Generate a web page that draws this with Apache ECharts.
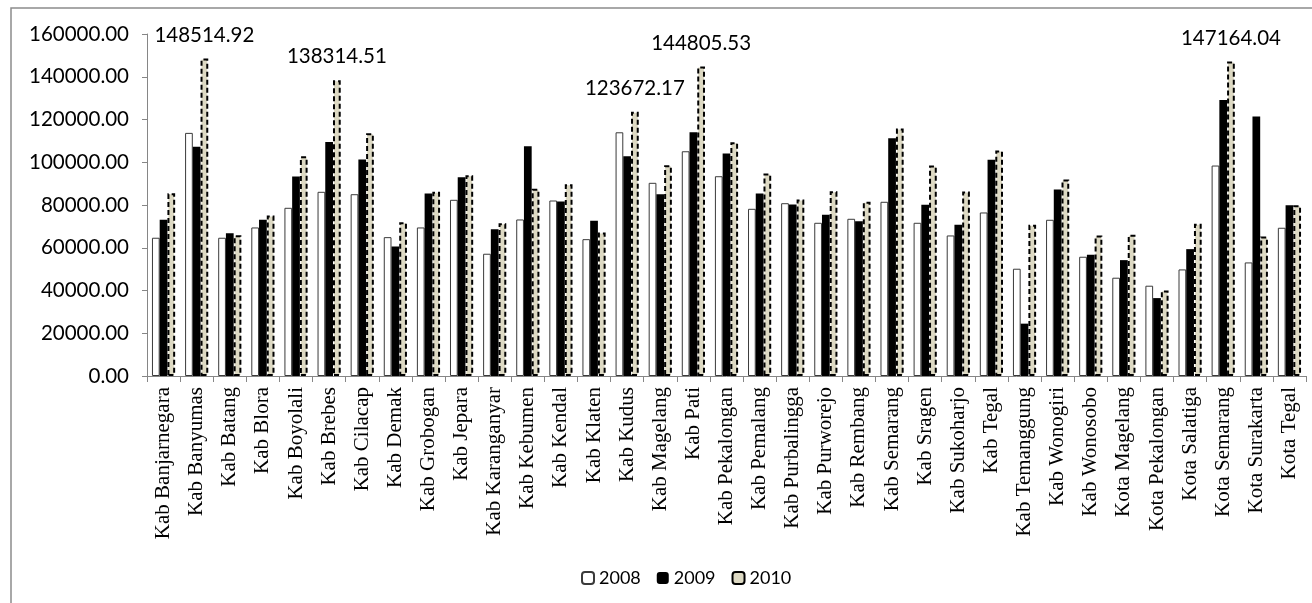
<!DOCTYPE html>
<html>
<head>
<meta charset="utf-8">
<script src="https://cdn.jsdelivr.net/npm/echarts@6/dist/echarts.min.js"></script>
<style>
  html, body { margin: 0; padding: 0; background: #fff; }
  #chart { width: 1312px; height: 603px; }
</style>
</head>
<body>
<div id="chart"></div>
<script>
// Regencies and cities of Central Java
const categories = [
  'Kab Banjarnegara', 'Kab Banyumas', 'Kab Batang', 'Kab Blora', 'Kab Boyolali',
  'Kab Brebes', 'Kab Cilacap', 'Kab Demak', 'Kab Grobogan', 'Kab Jepara',
  'Kab Karanganyar', 'Kab Kebumen', 'Kab Kendal', 'Kab Klaten', 'Kab Kudus',
  'Kab Magelang', 'Kab Pati', 'Kab Pekalongan', 'Kab Pemalang', 'Kab Purbalingga',
  'Kab Purworejo', 'Kab Rembang', 'Kab Semarang', 'Kab Sragen', 'Kab Sukoharjo',
  'Kab Tegal', 'Kab Temanggung', 'Kab Wonogiri', 'Kab Wonosobo', 'Kota Magelang',
  'Kota Pekalongan', 'Kota Salatiga', 'Kota Semarang', 'Kota Surakarta', 'Kota Tegal'
];

const years = ['2008', '2009', '2010'];

const values2008 = [
  64680, 113740, 64680, 69490, 78690, 86170, 85050, 64960, 69490, 82430,
  57200, 73230, 82100, 64020, 114020, 90380, 105140, 93460, 78220, 80840,
  71680, 73550, 81500, 71680, 65750, 76500, 50190, 73080, 55790, 45980,
  42240, 49860, 98460, 53130, 69350
];

const values2009 = [
  73080, 107200, 66830, 73080, 93320, 109530, 101260, 60610, 85380, 93000,
  68700, 107480, 81640, 72620, 102810, 85050, 114020, 104070, 85380, 80230,
  75420, 72430, 111220, 80100, 70750, 101120, 24490, 87250, 56730, 54210,
  36450, 59350, 129160, 121360, 79910
];

const values2010 = [
  85520, 148514.92, 65800, 75090, 102810, 138314.51, 113550, 71970, 86170, 93930,
  71500, 87570, 89730, 67150, 123672.17, 98600, 144805.53, 109350, 94720, 82570,
  86450, 81500, 115750, 98460, 86310, 105470, 70750, 91920, 65750, 66070,
  40050, 71220, 147164.04, 65280, 79910
];

// Bars of 2010 that carry a value label
const labeled2010 = ['Kab Banyumas', 'Kab Brebes', 'Kab Kudus', 'Kab Pati', 'Kota Semarang'];

const yTicks = { min: 0, max: 160000, interval: 20000 };

const numFont = 'Lato';
const axisGrey = '#868686';

const chart = echarts.init(document.getElementById('chart'), null, { renderer: 'canvas' });

chart.setOption({
  animation: false,
  backgroundColor: '#ffffff',
  graphic: [{
    type: 'polyline',
    silent: true,
    shape: { points: [[11, 620], [11, 8], [1330, 8]] },
    style: { stroke: '#8c8c8c', lineWidth: 1.5, fill: null }
  }],
  grid: { left: 147, right: 6, top: 34, bottom: 227, containLabel: false },
  legend: {
    left: 576,
    top: 564,
    itemWidth: 12,
    itemHeight: 12,
    itemGap: 16,
    textStyle: { fontFamily: numFont, fontSize: 18, color: '#000' },
    data: years
  },
  xAxis: {
    type: 'category',
    data: categories,
    axisLine: { lineStyle: { color: axisGrey, width: 1 } },
    axisTick: { show: true, length: 6, lineStyle: { color: axisGrey } },
    axisLabel: {
      interval: 0,
      rotate: 90,
      margin: 11,
      fontFamily: 'Liberation Serif',
      fontSize: 21,
      color: '#000'
    }
  },
  yAxis: {
    type: 'value',
    min: yTicks.min,
    max: yTicks.max,
    interval: yTicks.interval,
    splitLine: { show: false },
    axisLine: { show: true, lineStyle: { color: axisGrey, width: 1 } },
    axisTick: { show: true, length: 5, lineStyle: { color: axisGrey } },
    axisLabel: {
      margin: 18,
      fontFamily: numFont,
      fontSize: 20.5,
      color: '#000',
      formatter: v => v.toFixed(2)
    }
  },
  series: [
    {
      name: '2008',
      type: 'bar',
      data: values2008,
      barGap: '0%',
      barCategoryGap: '30%',
      itemStyle: { color: '#ffffff', borderColor: '#3a3a3a', borderWidth: 1 }
    },
    {
      name: '2009',
      type: 'bar',
      data: values2009,
      itemStyle: { color: '#000000', borderColor: '#000000', borderWidth: 0 }
    },
    {
      name: '2010',
      type: 'bar',
      data: values2010,
      itemStyle: {
        color: '#ddd9c3',
        borderColor: '#000000',
        borderWidth: 2,
        borderType: [5, 3]
      },
      label: {
        show: true,
        position: 'top',
        distance: 13,
        fontFamily: numFont,
        fontSize: 20.5,
        color: '#000',
        formatter: p => labeled2010.includes(p.name) ? p.value.toFixed(2) : ''
      }
    }
  ]
});
</script>
</body>
</html>
